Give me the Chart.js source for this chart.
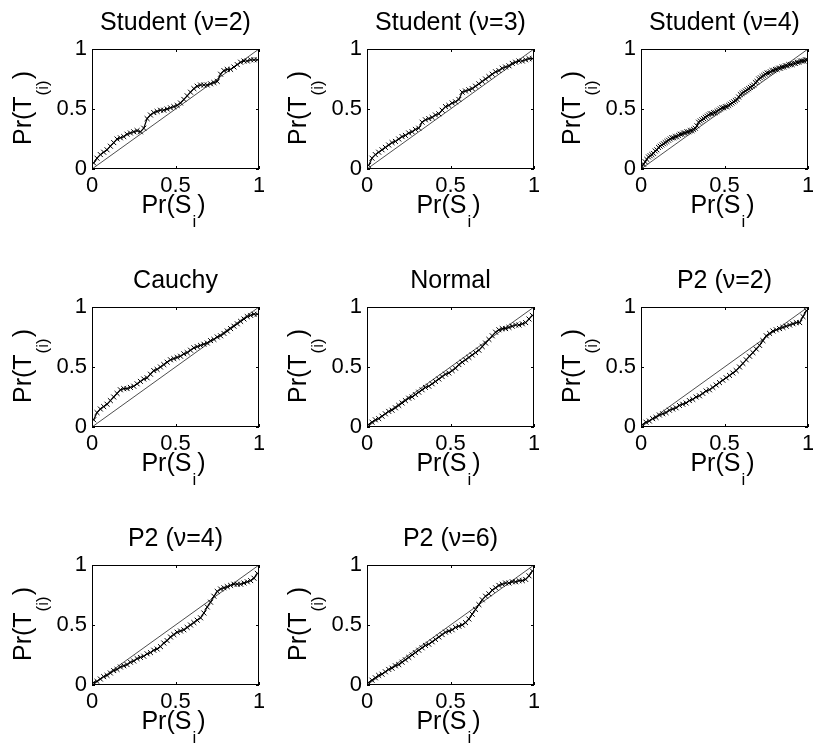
<!DOCTYPE html>
<html>
<head>
<meta charset="utf-8">
<script src="https://cdn.jsdelivr.net/npm/chart.js@4.4.1/dist/chart.umd.min.js"></script>
<style>
  body { margin: 0; background: #fff; width: 813px; height: 748px; overflow: hidden; position: relative; }
  canvas { position: absolute; }
</style>
</head>
<body>
<script>
// x positions of the plotted quantiles
var xs50 = [0.01,0.03,0.05,0.07,0.09,0.11,0.13,0.15,0.17,0.19,
            0.21,0.23,0.25,0.27,0.29,0.31,0.33,0.35,0.37,0.39,
            0.41,0.43,0.45,0.47,0.49,0.51,0.53,0.55,0.57,0.59,
            0.61,0.63,0.65,0.67,0.69,0.71,0.73,0.75,0.77,0.79,
            0.81,0.83,0.85,0.87,0.89,0.91,0.93,0.95,0.97,0.99];
var xs100 = [0.005,0.015,0.025,0.035,0.045,0.055,0.065,0.075,0.085,0.095,
             0.105,0.115,0.125,0.135,0.145,0.155,0.165,0.175,0.185,0.195,
             0.205,0.215,0.225,0.235,0.245,0.255,0.265,0.275,0.285,0.295,
             0.305,0.315,0.325,0.335,0.345,0.355,0.365,0.375,0.385,0.395,
             0.405,0.415,0.425,0.435,0.445,0.455,0.465,0.475,0.485,0.495,
             0.505,0.515,0.525,0.535,0.545,0.555,0.565,0.575,0.585,0.595,
             0.605,0.615,0.625,0.635,0.645,0.655,0.665,0.675,0.685,0.695,
             0.705,0.715,0.725,0.735,0.745,0.755,0.765,0.775,0.785,0.795,
             0.805,0.815,0.825,0.835,0.845,0.855,0.865,0.875,0.885,0.895,
             0.905,0.915,0.925,0.935,0.945,0.955,0.965,0.975,0.985,0.995];

// 45 degree reference line
var diagX = [0, 1];
var diagY = [0, 1];

var tickValues = [0, 0.5, 1];
var tickLabels = ["0", "0.5", "1"];

var titles = ["Student (\u03bd=2)", "Student (\u03bd=3)", "Student (\u03bd=4)",
              "Cauchy", "Normal", "P2 (\u03bd=2)",
              "P2 (\u03bd=4)", "P2 (\u03bd=6)"];

var yStudent2 = [0.05,0.09,0.12,0.14,0.16,0.19,0.22,0.25,0.26,0.27,
                 0.29,0.30,0.31,0.32,0.31,0.34,0.42,0.45,0.47,0.48,
                 0.49,0.49,0.50,0.51,0.52,0.53,0.55,0.58,0.61,0.64,
                 0.67,0.69,0.70,0.70,0.70,0.71,0.72,0.73,0.79,0.82,
                 0.83,0.83,0.85,0.87,0.89,0.90,0.90,0.91,0.91,0.91];
var yStudent3 = [0.03,0.09,0.12,0.14,0.16,0.18,0.20,0.22,0.23,0.25,
                 0.27,0.28,0.30,0.31,0.33,0.34,0.39,0.41,0.42,0.43,
                 0.45,0.46,0.49,0.52,0.53,0.55,0.56,0.58,0.64,0.65,
                 0.66,0.67,0.69,0.71,0.73,0.75,0.77,0.79,0.81,0.82,
                 0.84,0.85,0.86,0.88,0.89,0.90,0.90,0.91,0.92,0.92];
var yStudent4 = [0.02,0.04,0.06,0.08,0.10,0.11,0.12,0.13,0.15,0.16,
                 0.18,0.19,0.20,0.21,0.22,0.23,0.24,0.25,0.26,0.26,
                 0.27,0.27,0.28,0.29,0.29,0.30,0.30,0.31,0.31,0.32,
                 0.32,0.33,0.34,0.36,0.39,0.40,0.41,0.42,0.43,0.44,
                 0.45,0.46,0.46,0.47,0.47,0.48,0.49,0.50,0.51,0.51,
                 0.52,0.52,0.53,0.54,0.55,0.56,0.57,0.58,0.60,0.62,
                 0.63,0.64,0.65,0.66,0.67,0.68,0.69,0.70,0.72,0.73,
                 0.75,0.76,0.77,0.78,0.79,0.80,0.80,0.81,0.82,0.82,
                 0.83,0.83,0.84,0.84,0.85,0.85,0.86,0.86,0.87,0.87,
                 0.87,0.88,0.88,0.89,0.89,0.90,0.90,0.90,0.91,0.91];
var yCauchy = [0.06,0.12,0.15,0.17,0.19,0.22,0.25,0.28,0.31,0.32,
               0.32,0.33,0.34,0.36,0.38,0.40,0.41,0.44,0.47,0.48,
               0.50,0.52,0.54,0.56,0.57,0.58,0.59,0.61,0.62,0.64,
               0.66,0.67,0.68,0.69,0.70,0.72,0.73,0.75,0.76,0.78,
               0.80,0.82,0.84,0.86,0.88,0.90,0.92,0.93,0.94,0.94];
var yNormal = [0.02,0.04,0.06,0.07,0.09,0.11,0.13,0.14,0.16,0.18,
               0.20,0.22,0.24,0.25,0.27,0.29,0.31,0.33,0.34,0.36,
               0.38,0.40,0.42,0.44,0.45,0.47,0.49,0.52,0.54,0.56,
               0.58,0.60,0.62,0.64,0.67,0.70,0.73,0.76,0.79,0.81,
               0.82,0.82,0.83,0.84,0.85,0.85,0.86,0.87,0.90,0.93];
var yP2nu2 = [0.02,0.04,0.05,0.07,0.08,0.10,0.11,0.12,0.14,0.15,
              0.16,0.18,0.19,0.20,0.22,0.23,0.25,0.26,0.28,0.30,
              0.31,0.33,0.35,0.37,0.39,0.41,0.43,0.45,0.47,0.50,
              0.53,0.56,0.59,0.62,0.65,0.68,0.72,0.76,0.78,0.80,
              0.81,0.82,0.83,0.84,0.85,0.86,0.87,0.87,0.92,0.97];
var yP2nu4 = [0.02,0.03,0.05,0.07,0.08,0.10,0.12,0.13,0.15,0.16,
              0.17,0.19,0.20,0.22,0.23,0.24,0.26,0.27,0.29,0.30,
              0.32,0.35,0.37,0.40,0.42,0.44,0.45,0.46,0.48,0.50,
              0.52,0.54,0.56,0.60,0.65,0.69,0.74,0.78,0.80,0.81,
              0.82,0.83,0.84,0.84,0.84,0.85,0.86,0.87,0.89,0.93];
var yP2nu6 = [0.02,0.04,0.06,0.08,0.09,0.11,0.13,0.14,0.16,0.17,
              0.19,0.21,0.23,0.25,0.27,0.29,0.31,0.33,0.34,0.36,
              0.38,0.40,0.42,0.44,0.45,0.46,0.48,0.49,0.50,0.52,
              0.55,0.59,0.63,0.67,0.71,0.74,0.76,0.79,0.81,0.83,
              0.84,0.85,0.85,0.86,0.86,0.87,0.87,0.88,0.91,0.95];

var seriesX = [xs50, xs50, xs100, xs50, xs50, xs50, xs50, xs50];
var seriesY = [yStudent2, yStudent3, yStudent4, yCauchy, yNormal, yP2nu2, yP2nu4, yP2nu6];

// layout of the 3x3 grid (last cell empty)
var colLeft = [0, 275, 549];
var rowTop = [0, 258, 516];
var CW = 264, CH = 232;

var FONT = '"Liberation Sans", Arial, Helvetica, sans-serif';

function drawSub(ctx, pre, sub, post, cx, y, drop) {
  ctx.font = '25px ' + FONT;
  var w1 = ctx.measureText(pre).width, w3 = ctx.measureText(post).width;
  ctx.font = '17px ' + FONT;
  var w2 = ctx.measureText(sub).width;
  var x = cx - (w1 + w2 + w3) / 2;
  ctx.textAlign = 'left';
  ctx.textBaseline = 'alphabetic';
  ctx.font = '25px ' + FONT;
  ctx.fillText(pre, x, y);
  ctx.font = '17px ' + FONT;
  ctx.fillText(sub, x + w1 + 1, y + drop);
  ctx.font = '25px ' + FONT;
  ctx.fillText(post, x + w1 + w2 + 2, y);
}

// box, inward ticks, title and axis labels (MATLAB look)
var panelPlugin = {
  id: 'panel',
  afterDraw: function (chart, args, opts) {
    var ctx = chart.ctx, a = chart.chartArea;
    var sx = chart.scales.x, sy = chart.scales.y;
    ctx.save();
    ctx.strokeStyle = '#000';
    ctx.lineWidth = 1;
    ctx.strokeRect(a.left + 0.5, a.top + 0.5, a.right - a.left - 1, a.bottom - a.top - 1);
    ctx.beginPath();
    tickValues.forEach(function (v) {
      var px = Math.round(sx.getPixelForValue(v)) + 0.5;
      var py = Math.round(sy.getPixelForValue(v)) + 0.5;
      ctx.moveTo(px, a.bottom); ctx.lineTo(px, a.bottom - 3);
      ctx.moveTo(px, a.top); ctx.lineTo(px, a.top + 3);
      ctx.moveTo(a.left, py); ctx.lineTo(a.left + 3, py);
      ctx.moveTo(a.right, py); ctx.lineTo(a.right - 3, py);
    });
    ctx.stroke();

    var cx = (a.left + a.right) / 2;
    ctx.fillStyle = '#000';
    ctx.textAlign = 'center';
    ctx.textBaseline = 'alphabetic';
    ctx.font = '25px ' + FONT;
    ctx.fillText(opts.title, cx, a.top - 19);

    drawSub(ctx, 'Pr(S', 'i', ')', cx - 3, a.bottom + 44, 14);

    ctx.translate(31, (a.top + a.bottom) / 2);
    ctx.rotate(-Math.PI / 2);
    drawSub(ctx, 'Pr(T', '(i)', ')', 0, 0, 17);
    ctx.restore();
  }
};

function axisOpts(isX) {
  return {
    type: 'linear', min: 0, max: 1,
    grid: { display: false, drawTicks: false },
    border: { display: false },
    afterBuildTicks: function (s) {
      s.ticks = tickValues.map(function (v) { return { value: v }; });
    },
    ticks: {
      autoSkip: false, maxRotation: 0,
      padding: isX ? 4 : 5, color: '#000',
      font: { size: 22, family: FONT },
      callback: function (v) { return tickLabels[tickValues.indexOf(v)]; }
    },
    afterFit: function (s) {
      if (isX) { s.height = 30; } else { s.width = 92; }
      s.paddingLeft = 0; s.paddingRight = 0; s.paddingTop = 0; s.paddingBottom = 0;
    }
  };
}

titles.forEach(function (title, i) {
  var c = document.createElement('canvas');
  c.width = CW; c.height = CH;
  c.style.left = colLeft[i % 3] + 'px';
  c.style.top = rowTop[Math.floor(i / 3)] + 'px';
  document.body.appendChild(c);

  var xv = seriesX[i], yv = seriesY[i];
  var pts = xv.map(function (x, k) { return { x: x, y: yv[k] }; });
  var diag = diagX.map(function (x, k) { return { x: x, y: diagY[k] }; });

  new Chart(c, {
    type: 'scatter',
    data: {
      datasets: [{
        data: pts,
        showLine: true,
        borderColor: '#000',
        borderWidth: 1.2,
        pointStyle: 'crossRot',
        pointRadius: 3.5,
        pointBorderWidth: 1,
        pointBorderColor: '#000'
      }, {
        data: diag,
        showLine: true,
        borderColor: '#000',
        borderWidth: 0.7,
        pointRadius: 0
      }]
    },
    options: {
      responsive: false,
      animation: false,
      events: [],
      layout: { padding: { left: 0, top: 49, right: 1, bottom: 33 } },
      plugins: {
        legend: { display: false },
        tooltip: { enabled: false },
        panel: { title: title }
      },
      scales: { x: axisOpts(true), y: axisOpts(false) }
    },
    plugins: [panelPlugin]
  });
});
</script>
</body>
</html>
